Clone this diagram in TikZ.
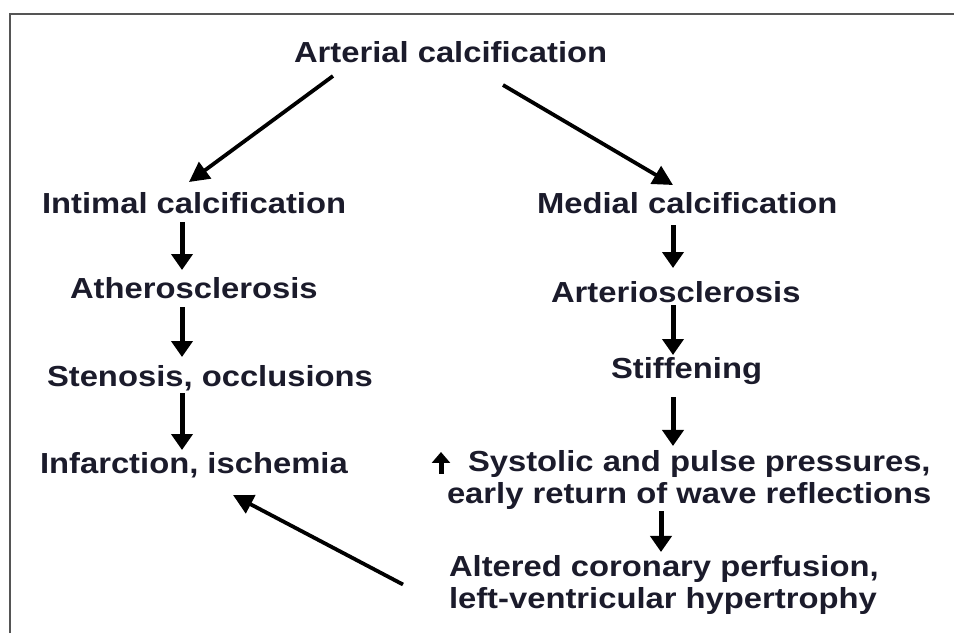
\documentclass[tikz,border=0pt]{standalone}
\usepackage{fontspec}
\setmainfont{Liberation Sans}[FakeStretch=1.13]
\usetikzlibrary{arrows.meta,calc}
\definecolor{txt}{HTML}{1B1B2B}
\definecolor{framec}{HTML}{555555}
\begin{document}
\begin{tikzpicture}[x=1pt,y=-1pt,
  lbl/.style={font=\fontsize{29}{32}\selectfont\bfseries, text=txt, inner sep=0pt, outer sep=0pt, anchor=base west, text height=21pt, text depth=6pt},
  lblm/.style={font=\fontsize{29}{32}\selectfont\bfseries, text=txt, inner sep=0pt, outer sep=0pt},
  varr/.style={-{Triangle[length=16pt,width=21pt]}, line width=5pt, draw=black},
  darr/.style={-{Triangle[length=20pt,width=20pt]}, line width=3.8pt, draw=black},
  uparr/.style={-{Triangle[length=11pt,width=18pt]}, line width=5pt, draw=black}]
\useasboundingbox (0,0) rectangle (954,633);
\draw[framec, line width=2pt] (10,633) -- (10,13.5) -- (954,13.5);

\node[lbl] (art) at (294,62) {Arterial calcification};
\node[lbl] (int) at (42,213) {Intimal calcification};
\node[lbl] (med) at (537,213) {Medial calcification};
\node[lbl] (ath) at (70,298) {Atherosclerosis};
\node[lbl] (arte) at (551,302) {Arteriosclerosis};
\node[lbl] (sten) at (47,386) {Stenosis, occlusions};
\node[lbl] (stif) at (611,378) {Stiffening};
\node[lbl] (inf) at (40,473) {Infarction, ischemia};
\node[lblm, align=left, anchor=base west] (sys) at (447,503) {\hspace*{21pt}Systolic and pulse pressures,\\early return of wave reflections};
\node[lblm, align=left, anchor=base west] (alt) at (449,608) {Altered coronary perfusion,\\left-ventricular hypertrophy};

% diagonal arrows
\draw[darr] ($(art.south west)+(39,8)$) -- ($(int.north west)+(147,-10)$);
\draw[darr] ($(art.south west)+(209,17)$) -- ($(med.north west)+(136,-7)$);
% left column
\draw[varr, shorten <=3pt, shorten >=7pt] (int.south -| 182,0) -- (ath.north -| 182,0);
\draw[varr, shorten <=3pt, shorten >=8pt] (ath.south -| 182,0) -- (sten.north -| 182,0);
\draw[varr, shorten <=1pt, shorten >=2pt] (sten.south -| 182,0) -- (inf.north -| 182,0);
% right column
\draw[varr, shorten <=6pt, shorten >=13pt] (med.south -| 673,0) -- (arte.north -| 673,0);
\draw[varr, shorten <=-3pt, shorten >=2pt] (arte.south -| 673,0) -- (stif.north -| 673,0);
\draw[varr, shorten <=13pt, shorten >=4pt] (stif.south -| 673,0) -- (sys.north -| 673,0);
\draw[varr, shorten <=2pt, shorten >=3pt] (sys.south -| 661,0) -- (alt.north -| 661,0);
% increase symbol
\draw[uparr] ([shift={(-6,24)}]sys.north west) -- ([shift={(-6,2)}]sys.north west);
% feedback arrow
\draw[darr] ($(alt.west)+(-46,0)$) -- ($(inf.south west)+(193,16)$);
\end{tikzpicture}
\end{document}
